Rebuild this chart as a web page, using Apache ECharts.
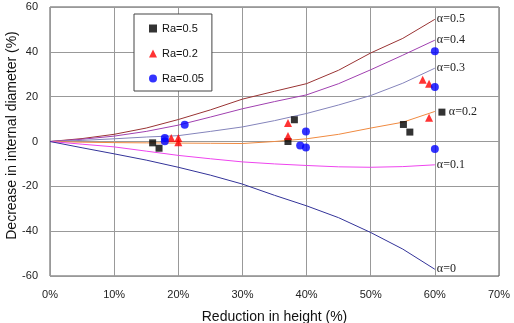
<!DOCTYPE html>
<html>
<head>
<meta charset="utf-8">
<script src="https://cdn.jsdelivr.net/npm/echarts@6/dist/echarts.min.js"></script>
<style>
  html, body { margin: 0; padding: 0; background: #fff; }
  #chart { width: 514px; height: 323px; }
</style>
</head>
<body>
<div id="chart"></div>
<script>
// reduction in height (%) for the model curves
const heights = [0, 5, 10, 15, 20, 25, 30, 35, 40, 45, 50, 55, 60];

// model curves, decrease in internal diameter (%)
const alpha05 = [0, 1.3, 3.2, 6.0, 9.8, 14.1, 18.9, 22.4, 25.8, 31.8, 39.5, 46.0, 54.5];
const alpha04 = [0, 1.0, 2.4, 4.5, 7.3, 10.9, 14.6, 17.8, 20.8, 25.8, 32.0, 38.5, 45.2];
const alpha03 = [0, 0.5, 1.2, 2.0, 2.6, 4.5, 6.5, 9.3, 12.5, 16.3, 20.5, 26.0, 32.7];
const alpha02 = [0, -0.3, -0.5, -0.6, -0.7, -0.8, -0.9, 0, 1.2, 3.2, 6.0, 8.6, 13.4];
const alpha01 = [0, -1.2, -2.4, -4.3, -6.2, -7.7, -9.1, -10.0, -10.7, -11.3, -11.5, -11.2, -10.4];
const alpha00 = [0, -2.8, -5.5, -8.3, -11.5, -15.0, -19.0, -24.0, -28.7, -34.0, -40.6, -48.0, -57.0];

// measured points [reduction, decrease]
const ra05 = [[16.0, -0.6], [17.0, -3.0], [37.1, 0], [38.1, 9.7], [55.1, 7.6], [56.1, 4.2], [61.1, 13.1]];
const ra02 = [[18.9, 1.6], [20.0, 1.6], [20.0, -0.3], [37.1, 8.2], [37.1, 2.4], [58.1, 27.6], [59.1, 25.8], [59.1, 10.6]];
const ra005 = [[17.9, 1.6], [17.9, 0.1], [21.0, 7.5], [39.9, 4.5], [39.0, -1.8], [39.9, -2.7], [60.0, 40.3], [60.0, 24.3], [60.0, -3.3]];

const xTicks = [0, 10, 20, 30, 40, 50, 60, 70];
const yTicks = [-60, -40, -20, 0, 20, 40, 60];

function curve(name, values, color, dist) {
  return {
    name: name,
    type: 'line',
    data: heights.map((h, i) => [h, values[i]]),
    showSymbol: false,
    lineStyle: { color: color, width: 1 },
    itemStyle: { color: color },
    silent: true,
    z: 2,
    endLabel: {
      show: true,
      formatter: name,
      distance: dist || 2,
      color: '#222',
      fontFamily: 'Liberation Serif',
      fontSize: 12
    }
  };
}

const chart = echarts.init(document.getElementById('chart'));
chart.setOption({
  animation: false,
  textStyle: { fontFamily: 'Liberation Sans' },
  grid: {
    left: 50, right: 15, top: 7, bottom: 47,
    outerBoundsMode: 'none',
    containLabel: false,
    show: true, borderColor: '#555', borderWidth: 1
  },
  legend: {
    orient: 'vertical',
    left: 134,
    top: 14,
    data: ['Ra=0.5', 'Ra=0.2', 'Ra=0.05'],
    backgroundColor: '#fff',
    borderColor: '#444',
    borderWidth: 1,
    padding: [9, 8, 7, 15],
    itemGap: 14,
    itemWidth: 8,
    itemHeight: 8,
    textStyle: { color: '#111', fontSize: 11 }
  },
  xAxis: {
    type: 'value',
    min: 0,
    max: 70,
    interval: 10,
    name: 'Reduction in height (%)',
    nameLocation: 'middle',
    nameMoveOverlap: false,
    nameGap: 34,
    nameTextStyle: { color: '#111', fontSize: 14 },
    axisLine: { show: false, onZero: false },
    axisTick: { show: false },
    axisLabel: { color: '#222', fontSize: 11, margin: 13, formatter: v => xTicks.includes(v) ? v + '%' : '' },
    splitLine: { show: true, lineStyle: { color: '#999', width: 1 } }
  },
  yAxis: {
    type: 'value',
    min: -60,
    max: 60,
    interval: 20,
    name: 'Decrease in internal diameter (%)',
    nameLocation: 'middle',
    nameMoveOverlap: false,
    nameGap: 31,
    nameTextStyle: { color: '#111', fontSize: 14, padding: [0, 0, 0, 12] },
    axisLine: { show: false, onZero: false },
    axisTick: { show: false },
    axisLabel: { color: '#222', fontSize: 11, margin: 12, formatter: v => yTicks.includes(v) ? String(v) : '' },
    splitLine: { show: true, lineStyle: { color: '#999', width: 1 } }
  },
  series: [
    curve('α=0.5', alpha05, '#993333'),
    curve('α=0.4', alpha04, '#a040b0'),
    curve('α=0.3', alpha03, '#8484bb'),
    curve('α=0.2', alpha02, '#f08a40', 14),
    curve('α=0.1', alpha01, '#ee44ee'),
    curve('α=0', alpha00, '#333399'),
    { name: 'Ra=0.5', type: 'scatter', data: ra05, symbol: 'rect', symbolSize: 7, itemStyle: { color: '#000' }, z: 5 },
    { name: 'Ra=0.2', type: 'scatter', data: ra02, symbol: 'triangle', symbolSize: 8, itemStyle: { color: '#ff0000' }, z: 5 },
    { name: 'Ra=0.05', type: 'scatter', data: ra005, symbol: 'circle', symbolSize: 8, itemStyle: { color: '#0000ff' }, z: 5 }
  ]
});
</script>
</body>
</html>
